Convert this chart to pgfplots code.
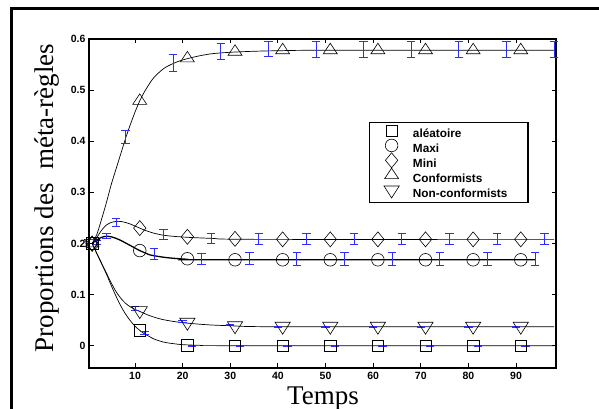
\documentclass[border=0pt]{standalone}
\usepackage{fontspec}
\setmainfont{Liberation Serif}
\setsansfont{Liberation Sans}
\usepackage{pgfplots}
\pgfplotsset{compat=1.18}
\definecolor{ebblue}{RGB}{45,45,255}
\begin{document}
\begin{tikzpicture}[x=1pt,y=1pt]
\useasboundingbox (0,0) rectangle (599,409);
\clip (0,0) rectangle (599,409);
\draw[line width=2.2pt] (11.5,-20) -- (11.5,400.5) -- (640,400.5);
\node[rotate=90, anchor=base, font=\fontsize{27}{30}\selectfont] at (53.5,211) {Proportions des~~méta-règles};
\node[anchor=base, font=\fontsize{27}{30}\selectfont] at (323,4) {Temps};
\begin{axis}[
  at={(89pt,41pt)}, anchor=south west,
  width=467pt, height=329pt, scale only axis,
  xmin=0.34, xmax=98.4, ymin=-0.0437, ymax=0.6,
  clip=false,
  axis line style={line width=1.8pt},
  tick align=inside, xtick pos=both, ytick pos=both,
  major tick length=4.5pt,
  tick style={line width=1pt, black},
  xtick={10,20,30,40,50,60,70,80,90},
  xticklabels={10,20,30,40,50,60,70,80,90},
  ytick={0,0.1,0.2,0.3,0.4,0.5,0.6},
  yticklabels={0,0.1,0.2,0.3,0.4,0.5,0.6},
  ticklabel style={font=\sffamily\bfseries\fontsize{10.5}{11}\selectfont},
  xticklabel style={yshift=-1pt},
  legend style={at={(0.5996,0.7477)}, anchor=north west, draw=black, line width=1.1pt,
    inner xsep=0pt, inner ysep=2.9pt, row sep=0pt, column sep=0pt,
    font=\sffamily\bfseries\fontsize{11.8}{12}\selectfont,
    nodes={inner sep=0pt, text height=8.8pt, text depth=2.6pt}},
  legend cell align=left,
  legend image code/.code={\path (0pt,-2.6pt) (42.7pt,8.8pt);
     \pgfinterruptboundingbox\draw[#1] plot coordinates {(21.7pt,4pt)};\endpgfinterruptboundingbox},
  every axis plot/.append style={line width=0.7pt},
  ebar/.style={forget plot, color=ebblue, draw=none, mark=none,
    error bars/y dir=both, error bars/y explicit,
    error bars/error bar style={draw=ebblue, line width=0.9pt},
    error bars/error mark options={rotate=90, draw=ebblue, mark size=4.2pt, line width=0.9pt}},
]
% legend entries
\addlegendimage{only marks, mark=square, mark size=5.7pt, mark options={fill=none, draw=black, line width=0.6pt}}
\addlegendentry{\makebox[115pt][l]{aléatoire}}
\addlegendimage{only marks, mark=o, mark size=6.3pt, mark options={fill=none, draw=black, line width=0.6pt}}
\addlegendentry{\makebox[115pt][l]{Maxi}}
\addlegendimage{only marks, mark=diamond, mark size=7.5pt, mark options={fill=none, draw=black, line width=0.6pt, xscale=1.1}}
\addlegendentry{\makebox[115pt][l]{Mini}}
\addlegendimage{only marks, mark=triangle, mark size=7pt, mark options={fill=none, draw=black, line width=0.6pt, xscale=1.15}}
\addlegendentry{\makebox[115pt][l]{Conformists}}
\addlegendimage{only marks, mark=triangle, mark size=8pt, mark options={fill=none, draw=black, line width=0.6pt, rotate=180, xscale=1.1}}
\addlegendentry{\makebox[115pt][l]{Non-conformists}}

% curves
\addplot[black, smooth, forget plot] coordinates {(1,0.2)(2,0.218)(3,0.248)(4,0.28)(5,0.315)(6,0.345)(7,0.375)(8,0.405)(9,0.432)(10,0.457)(11,0.479)(12,0.497)(13,0.512)(14,0.525)(16,0.542)(18,0.552)(20,0.559)(23,0.566)(26,0.571)(30,0.574)(35,0.576)(40,0.577)(50,0.578)(98,0.578)};
\addplot[black, smooth, forget plot] coordinates {(1,0.2)(2,0.212)(3,0.226)(4,0.236)(5,0.241)(6,0.243)(7,0.243)(8,0.241)(9,0.238)(10,0.234)(11,0.23)(12,0.226)(14,0.22)(16,0.216)(18,0.214)(21,0.212)(26,0.21)(35,0.208)(98,0.208)};
\addplot[black, smooth, forget plot, line width=1.3pt] coordinates {(1,0.2)(2,0.207)(3,0.212)(4,0.214)(5,0.213)(6,0.21)(7,0.206)(8,0.201)(9,0.196)(10,0.191)(11,0.186)(12,0.182)(13,0.178)(14,0.176)(16,0.173)(18,0.171)(21,0.169)(25,0.168)(94,0.168)};
\addplot[black, smooth, forget plot] coordinates {(1,0.2)(2,0.18)(3,0.161)(4,0.142)(5,0.123)(6,0.106)(7,0.093)(8,0.083)(9,0.076)(10,0.071)(11,0.067)(13,0.059)(15,0.053)(17,0.049)(20,0.045)(25,0.041)(30,0.039)(40,0.037)(98,0.037)};
\addplot[black, smooth, forget plot] coordinates {(1,0.2)(2,0.18)(3,0.16)(4,0.14)(5,0.118)(6,0.097)(7,0.078)(8,0.062)(9,0.049)(10,0.038)(11,0.03)(12,0.023)(13,0.018)(14,0.013)(16,0.007)(18,0.004)(20,0.002)(24,0.0005)(30,0)(98,0)};

% error bars
\addplot[ebar] coordinates {(8,0.408)+-(0,0.013) (18,0.553)+-(0,0.017) (28,0.575)+-(0,0.016) (38,0.58)+-(0,0.015) (48,0.58)+-(0,0.016) (58,0.58)+-(0,0.016) (68,0.58)+-(0,0.016) (78,0.58)+-(0,0.016) (88,0.58)+-(0,0.016) (98,0.58)+-(0,0.016)};
\addplot[ebar] coordinates {(6,0.241)+-(0,0.008) (16,0.217)+-(0,0.01) (26,0.21)+-(0,0.01) (36,0.209)+-(0,0.011) (46,0.209)+-(0,0.011) (56,0.209)+-(0,0.011) (66,0.209)+-(0,0.011) (76,0.209)+-(0,0.011) (86,0.209)+-(0,0.011) (96,0.209)+-(0,0.011)};
\addplot[ebar] coordinates {(4,0.214)+-(0,0.005) (14,0.179)+-(0,0.011) (24,0.17)+-(0,0.011) (34,0.17)+-(0,0.012) (44,0.17)+-(0,0.013) (54,0.17)+-(0,0.013) (64,0.17)+-(0,0.013) (74,0.17)+-(0,0.013) (84,0.17)+-(0,0.013) (94,0.17)+-(0,0.013)};
\addplot[ebar] coordinates {(10,0.073)+-(0,0.004) (20,0.047)+-(0,0.002) (30,0.0405)+-(0,0.001) (40,0.037)+-(0,0.001) (50,0.037)+-(0,0.001) (60,0.037)+-(0,0.001) (70,0.037)+-(0,0.001) (80,0.037)+-(0,0.001) (90,0.037)+-(0,0.001)};
\addplot[ebar] coordinates {(2,0.202)+-(0,0.004) (12,0.024)+-(0,0.003) (22,0)+-(0,0.001) (32,0)+-(0,0.001) (42,0)+-(0,0.001) (52,0)+-(0,0.001) (62,0)+-(0,0.001) (72,0)+-(0,0.001) (82,0)+-(0,0.001) (92,0)+-(0,0.001)};

% markers
\addplot[only marks, forget plot, mark=triangle, mark size=7pt, mark options={fill=none, draw=black, line width=0.6pt, xscale=1.15}] coordinates {(1,0.2)(11,0.479)(21,0.562)(31,0.575)(41,0.578)(51,0.578)(61,0.578)(71,0.578)(81,0.578)(91,0.578)};
\addplot[only marks, forget plot, mark=diamond, mark size=7.5pt, mark options={fill=none, draw=black, line width=0.6pt, xscale=1.1}] coordinates {(1,0.2)(11,0.23)(21,0.213)(31,0.209)(41,0.208)(51,0.208)(61,0.208)(71,0.208)(81,0.208)(91,0.208)};
\addplot[only marks, forget plot, mark=o, mark size=6.3pt, mark options={fill=none, draw=black, line width=0.6pt}] coordinates {(1,0.2)(11,0.186)(21,0.17)(31,0.168)(41,0.168)(51,0.168)(61,0.168)(71,0.168)(81,0.168)(91,0.168)};
\addplot[only marks, forget plot, mark=triangle, mark size=8pt, mark options={fill=none, draw=black, line width=0.6pt, rotate=180, xscale=1.1}] coordinates {(1,0.2)(11,0.0685)(21,0.0458)(31,0.039)(41,0.038)(51,0.038)(61,0.038)(71,0.038)(81,0.038)(91,0.038)};
\addplot[only marks, forget plot, mark=square, mark size=5.7pt, mark options={fill=none, draw=black, line width=0.6pt}] coordinates {(1,0.2)(11,0.0297)(21,0.001)(31,0)(41,0)(51,0)(61,0)(71,0)(81,0)(91,0)};
\end{axis}
\end{tikzpicture}
\end{document}
